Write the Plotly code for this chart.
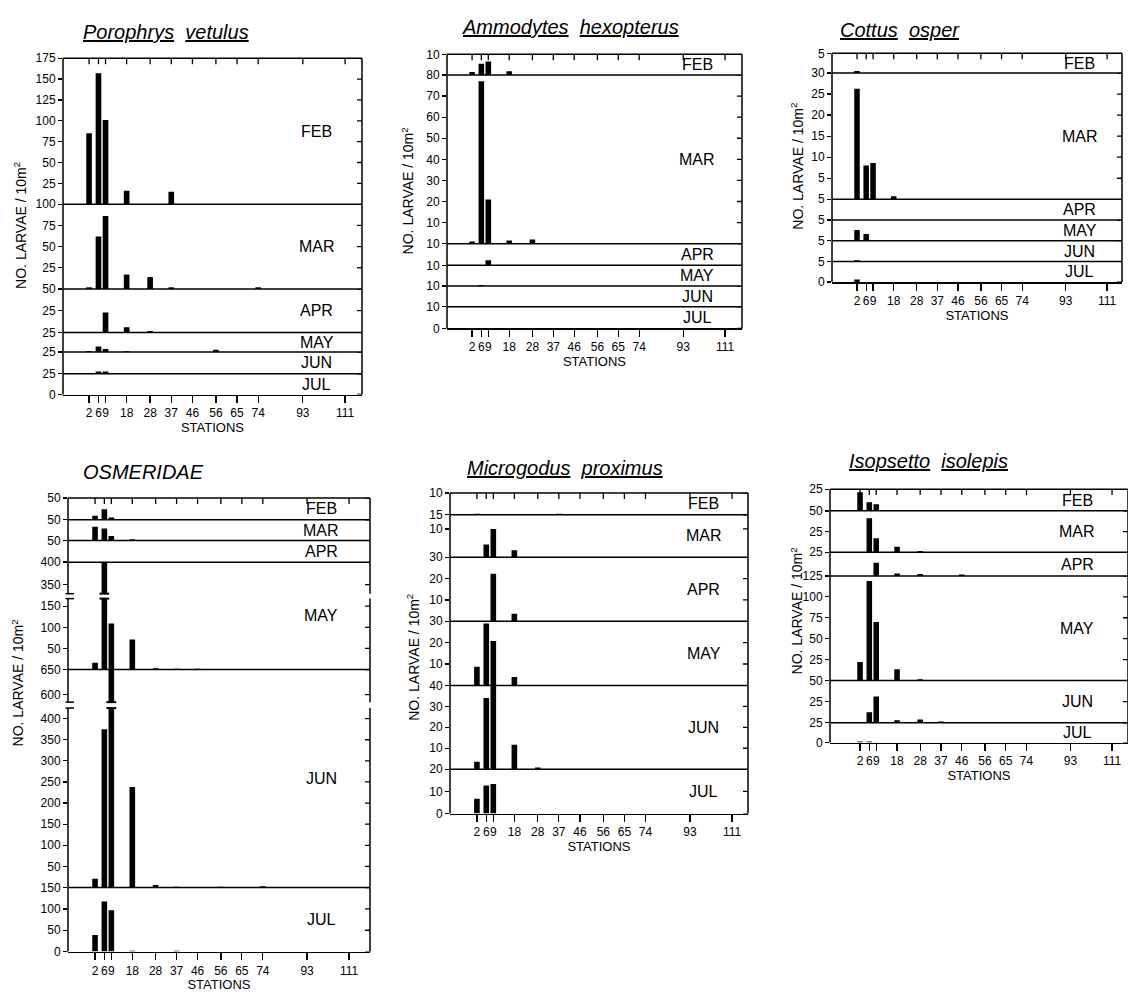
import plotly.graph_objects as go

W, H = 1128, 1001
FONT = "Liberation Sans, Arial, Helvetica, sans-serif"
INK = "black"

# ---------------- data ----------------
stations = [2, 6, 9, 18, 28, 37, 46, 56, 65, 74, 93, 111]
station_labels = ["2", "6", "9", "18", "28", "37", "46", "56", "65", "74", "93", "111"]
months = ["FEB", "MAR", "APR", "MAY", "JUN", "JUL"]

# Porophrys vetulus (larvae / 10 m2)
por_feb = [85, 157, 101, 16, 0, 15, 0, 0, 0, 0, 0, 0]
por_mar = [2, 62, 86, 17, 14, 2, 0, 0, 0, 2, 0, 0]
por_apr = [0, 0, 23, 6, 1.5, 0, 0, 0, 0, 0, 0, 0]
por_may = [1.5, 7, 4, 1, 0, 0, 0, 3, 0, 0, 0, 0]
por_jun = [0, 2.5, 2.5, 0, 0, 0, 0, 0, 0, 0, 0, 0]
por_jul = [0, 0, 0, 0, 0, 0, 0, 0, 0, 0, 0, 0]

# Ammodytes hexopterus
amm_feb = [1.5, 5.5, 6.5, 1.8, 0, 0, 0, 0, 0, 0, 0, 0]
amm_mar = [1, 77, 21, 1.5, 2, 0, 0, 0, 0, 0, 0, 0]
amm_apr = [0, 0, 2.3, 0, 0, 0, 0, 0, 0, 0, 0, 0]
amm_may = [0, 0.5, 0, 0, 0, 0, 0, 0, 0, 0, 0, 0]
amm_jun = [0, 0, 0, 0, 0, 0, 0, 0, 0, 0, 0, 0]
amm_jul = [0, 0, 0, 0, 0, 0, 0, 0, 0, 0, 0, 0]

# Cottus osper
cot_feb = [0.5, 0, 0, 0, 0, 0, 0, 0, 0, 0, 0, 0]
cot_mar = [26.3, 8, 8.6, 0.7, 0, 0, 0, 0, 0, 0, 0, 0]
cot_apr = [0, 0, 0, 0, 0, 0, 0, 0, 0, 0, 0, 0]
cot_may = [2.6, 1.6, 0, 0, 0, 0, 0, 0, 0, 0, 0, 0]
cot_jun = [0.3, 0, 0, 0, 0, 0, 0, 0, 0, 0, 0, 0]
cot_jul = [0.6, 0, 0, 0, 0, 0, 0, 0, 0, 0, 0, 0]

# OSMERIDAE
osm_feb = [9, 24, 5, 0, 0, 0, 0, 0, 0, 0, 0, 0]
osm_mar = [33, 29, 11, 3, 0, 0, 0, 0, 0, 0, 0, 0]
osm_apr = [0, 0, 0, 0, 0, 0, 0, 0, 0, 0, 0, 0]
osm_may = [16, 400, 109, 71, 3, 2, 2, 0, 0, 0, 0, 0]
osm_jun = [21, 375, 650, 238, 6, 2, 0, 2, 0, 3, 0, 0]
osm_jul = [39, 117, 97, 2, 0, 2, 0, 0, 0, 0, 0, 0]

# Microgodus proximus
mic_feb = [0.5, 0.3, 0.3, 0, 0, 0.5, 0, 0, 0, 0, 0, 0]
mic_mar = [0, 4.5, 10, 2.5, 0, 0, 0, 0, 0, 0, 0, 0]
mic_apr = [0, 0, 22.3, 3.5, 0, 0, 0, 0, 0, 0, 0, 0]
mic_may = [8.7, 29, 20.8, 3.9, 0, 0, 0, 0, 0, 0, 0, 0]
mic_jun = [3.6, 34, 40, 11.7, 0.8, 0, 0, 0, 0, 0, 0, 0]
mic_jul = [6.7, 12.6, 13.3, 0, 0, 0, 0, 0, 0, 0, 0, 0]

# Isopsetto isolepis
iso_feb = [21.5, 10, 7.7, 1, 0, 0, 0, 0, 0, 0, 0, 0]
iso_mar = [0, 41, 17, 6.7, 1.5, 0, 0, 0, 0, 0, 0, 0]
iso_apr = [0, 0, 14, 2.5, 2, 0, 1.5, 0, 0, 0, 0, 0]
iso_may = [22, 119, 70, 13.5, 1.5, 0, 0, 0, 0, 0, 0, 0]
iso_jun = [0, 12.5, 31, 3, 4, 1.5, 0, 1, 0, 0, 0, 0]
iso_jul = [1.5, 1.5, 0.5, 0, 0, 0, 0, 0, 0, 0, 0, 0]

# ---------------- layout geometry (pixels) ----------------
def S(top, bot, rng, ticks):
    return dict(px=(top, bot), range=rng, ticks=ticks)

panels = [
    dict(title="<i><u>Porophrys</u>&nbsp; <u>vetulus</u></i>",
         data=[por_feb, por_mar, por_apr, por_may, por_jun, por_jul],
         title_px=(166, 25), ytitle_px=(20, 222), label_station=99,
         x_px=(63, 362), x_range=(-9.1, 118.2),
         strips=[[S(52, 200, (0, 175), [25, 50, 75, 100, 125, 150, 175])],
                 [S(200, 286, (0, 100), [25, 50, 75, 100])],
                 [S(286, 330, (0, 50), [25, 50])],
                 [S(330, 350, (0, 25), [25])],
                 [S(350, 372, (0, 25), [25])],
                 [S(372, 393, (0, 25), [0, 25])]]),
    dict(title="<i><u>Ammodytes</u>&nbsp; <u>hexopterus</u></i>",
         data=[amm_feb, amm_mar, amm_apr, amm_may, amm_jun, amm_jul],
         title_px=(570, 20), ytitle_px=(408, 187), label_station=99,
         x_px=(447, 742), x_range=(-8.8, 118.3),
         strips=[[S(48, 69, (0, 10), [10])],
                 [S(69, 240, (0, 80), [10, 20, 30, 40, 50, 60, 70, 80])],
                 [S(240, 262, (0, 10), [10])],
                 [S(262, 283, (0, 10), [10])],
                 [S(283, 304, (0, 10), [10])],
                 [S(304, 326, (0, 10), [0, 10])]]),
    dict(title="<i><u>Cottus</u>&nbsp; <u>osper</u></i>",
         data=[cot_feb, cot_mar, cot_apr, cot_may, cot_jun, cot_jul],
         title_px=(900, 23), ytitle_px=(797, 162), label_station=99,
         x_px=(832, 1122), x_range=(-8.9, 117.5),
         strips=[[S(47, 67, (0, 5), [5])],
                 [S(67, 195, (0, 30), [5, 10, 15, 20, 25, 30])],
                 [S(195, 216, (0, 5), [5])],
                 [S(216, 237, (0, 5), [5])],
                 [S(237, 258, (0, 5), [5])],
                 [S(258, 279, (0, 5), [0, 5])]]),
    dict(title="<i>OSMERIDAE</i>",
         data=[osm_feb, osm_mar, osm_apr, osm_may, osm_jun, osm_jul],
         title_px=(143, 472), ytitle_px=(18, 686), label_station=99,
         x_px=(68, 370), x_range=(-9.6, 120),
         strips=[[S(498, 520, (0, 50), [50])],
                 [S(520, 541, (0, 50), [50])],
                 [S(541, 563, (0, 50), [50])],
                 [S(563, 595, (330, 400), [350, 400]),
                  S(600, 672, (0, 168), [50, 100, 150])],
                 [S(672, 705, (585, 650), [600, 650]),
                  S(711, 893, (0, 425), [50, 100, 150, 200, 250, 300, 350, 400])],
                 [S(893, 958, (0, 150), [0, 50, 100, 150])]]),
    dict(title="<i><u>Microgodus</u>&nbsp; <u>proximus</u></i>",
         data=[mic_feb, mic_mar, mic_apr, mic_may, mic_jun, mic_jul],
         title_px=(565, 468), ytitle_px=(413, 660), label_station=99,
         x_px=(450, 748), x_range=(-9.5, 117.8),
         strips=[[S(493, 515, (0, 10), [10])],
                 [S(515, 558, (0, 15), [10, 15])],
                 [S(558, 623, (0, 30), [10, 20, 30])],
                 [S(623, 688, (0, 30), [10, 20, 30])],
                 [S(688, 773, (0, 40), [10, 20, 30, 40])],
                 [S(773, 818, (0, 20), [0, 10, 20])]]),
    dict(title="<i><u>Isopsetto</u>&nbsp; <u>isolepis</u></i>",
         data=[iso_feb, iso_mar, iso_apr, iso_may, iso_jun, iso_jul],
         title_px=(928, 460), ytitle_px=(797, 613), label_station=96,
         x_px=(830, 1128), x_range=(-11, 117.9),
         strips=[[S(489, 511, (0, 25), [25])],
                 [S(511, 553, (0, 50), [25, 50])],
                 [S(553, 577, (0, 25), [25])],
                 [S(577, 683, (0, 125), [25, 50, 75, 100, 125])],
                 [S(683, 726, (0, 50), [25, 50])],
                 [S(726, 746, (0, 25), [0, 25])]]),
]

# ---------------- build ----------------
fig = go.Figure()
lay = dict(width=W, height=H, autosize=False, margin=dict(l=0, r=0, t=0, b=0),
           paper_bgcolor="white", plot_bgcolor="white", showlegend=False,
           barmode="overlay", font=dict(family=FONT, color=INK, size=12))
shapes, annots = [], []
counter = {"x": 0, "y": 0}
LW = 1.5
TW = 1.3
BAR_W = 2.4


def new_axis(kind):
    counter[kind] += 1
    n = counter[kind]
    ref = kind if n == 1 else f"{kind}{n}"
    key = f"{kind}axis" if n == 1 else f"{kind}axis{n}"
    return ref, key


def fx(px):
    return px / W


def fy(px):
    return 1 - px / H


def line(**kw):
    width = kw.pop("width", LW)
    return dict(type="line", line=dict(color=INK, width=width), **kw)


for p in panels:
    xb, xb_key = new_axis("x")
    l, r = p["x_px"]
    first_y, first_part, last_y = None, None, None
    for m, parts in enumerate(p["strips"]):
        values = p["data"][m]
        refs = []
        for part in parts:
            yref, ykey = new_axis("y")
            top, bot = part["px"]
            tv = part["ticks"]
            lay[ykey] = dict(domain=[fy(bot), fy(top)], range=list(part["range"]),
                             anchor=xb, side="left", tickvals=tv,
                             ticktext=[f"{v:g}" for v in tv],
                             ticks="outside", ticklen=4, tickwidth=TW, tickcolor=INK,
                             showgrid=False, zeroline=False, showline=False,
                             fixedrange=True,
                             tickfont=dict(size=12, family=FONT, color=INK))
            fig.add_trace(go.Bar(x=stations, y=values, xaxis=xb, yaxis=yref,
                                 width=BAR_W, marker=dict(color=INK, line=dict(width=0)),
                                 hoverinfo="skip"))
            # left / right borders of the strip
            for xd in (0, 1):
                shapes.append(line(xref=f"{xb} domain", x0=xd, x1=xd,
                                   yref=f"{yref} domain", y0=0, y1=1))
            # inward ticks on the right border
            tick_frac = 5 / (r - l)
            for v in tv:
                shapes.append(line(xref=f"{xb} domain", x0=1 - tick_frac, x1=1,
                                   yref=yref, y0=v, y1=v, width=TW))
            refs.append((yref, part))
            if first_y is None:
                first_y, first_part = yref, part
            last_y = yref
        top_px = parts[0]["px"][0]
        bot_px = parts[-1]["px"][1]
        shapes.append(line(xref=f"{xb} domain", x0=0, x1=1,
                           yref="paper", y0=fy(top_px), y1=fy(top_px)))
        annots.append(dict(text=months[m], xref=xb, x=p["label_station"],
                           yref="paper", y=fy((top_px + bot_px) / 2),
                           showarrow=False, xanchor="center", yanchor="middle",
                           font=dict(size=16, family=FONT, color=INK)))
        if len(refs) == 2:
            (up_ref, up), (lo_ref, lo) = refs
            for s, v in zip(stations, values):
                if v > lo["range"][1]:
                    for r_, yv in ((lo_ref, 1), (up_ref, 0)):
                        shapes.append(line(xref=xb, x0=s - 2.1, x1=s + 2.1,
                                           yref=f"{r_} domain", y0=yv, y1=yv, width=2))
            for r_, yv in ((lo_ref, 1), (up_ref, 0)):
                shapes.append(line(xref=f"{xb} domain", x0=-0.008, x1=0.02,
                                   yref=f"{r_} domain", y0=yv, y1=yv))

    # inward station ticks along the top border
    ftop, fbot = first_part["px"]
    for s in stations:
        shapes.append(line(xref=xb, x0=s, x1=s, yref=f"{first_y} domain",
                           y0=1, y1=1 - 6 / (fbot - ftop), width=TW))

    lay[xb_key] = dict(domain=[fx(l), fx(r)], range=list(p["x_range"]), anchor=last_y,
                       tickvals=stations, ticktext=station_labels, ticks="outside",
                       ticklen=7, tickwidth=TW, tickcolor=INK, tickangle=0,
                       showline=True, linecolor=INK, linewidth=LW, showgrid=False,
                       zeroline=False, fixedrange=True,
                       tickfont=dict(size=12, family=FONT, color=INK),
                       title=dict(text="STATIONS", standoff=3,
                                  font=dict(size=13, family=FONT, color=INK)))

    tx, ty = p["title_px"]
    annots.append(dict(text=p["title"], xref="paper", yref="paper", x=fx(tx), y=fy(ty),
                       showarrow=False, xanchor="center", yanchor="middle",
                       font=dict(size=20, family=FONT, color=INK)))
    ax_, ay_ = p["ytitle_px"]
    annots.append(dict(text="NO. LARVAE / 10m<sup>2</sup>", xref="paper", yref="paper",
                       x=fx(ax_), y=fy(ay_), textangle=-90, showarrow=False,
                       xanchor="center", yanchor="middle",
                       font=dict(size=14, family=FONT, color=INK)))

lay["shapes"] = shapes
lay["annotations"] = annots
fig.update_layout(**lay)
fig.write_html("out.html", config={"displayModeBar": False, "staticPlot": True},
               post_script="document.body.style.margin='0';")
